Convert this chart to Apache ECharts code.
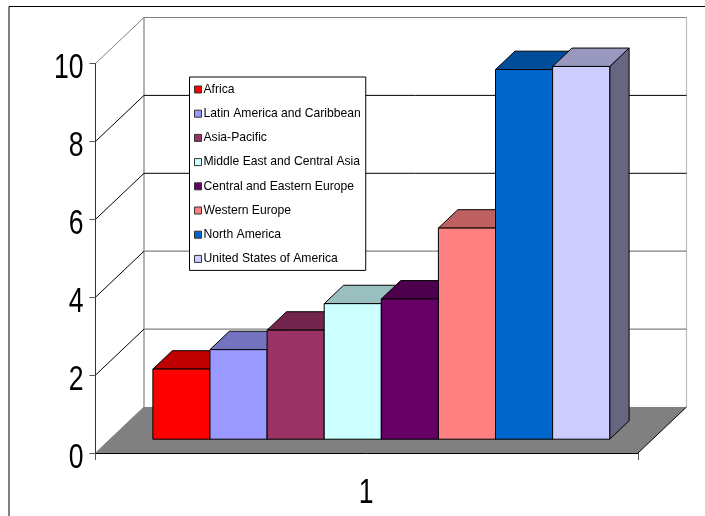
<!DOCTYPE html>
<html><head><meta charset="utf-8">
<style>html,body{margin:0;padding:0;background:#fff}#c{width:705px;height:516px}</style>
<script src="https://cdn.jsdelivr.net/npm/echarts@6/dist/echarts.min.js"></script>
</head><body><div id="c"></div>
<script>
const categories = ['1'];
const regions = ['Africa','Latin America and Caribbean','Asia-Pacific','Middle East and Central Asia','Central and Eastern Europe','Western Europe','North America','United States of America'];
const values = [1.80,2.30,2.80,3.48,3.60,5.42,9.49,9.57];
const frontColors = ['#FF0000','#9999FF','#993366','#CCFFFF','#660066','#FF8080','#0066CC','#CCCCFF'];
const topColors = ['#BF0000','#7373BF','#73264D','#99BFBF','#4D004D','#BF6060','#004D99','#9999BF'];
const sideColors = ['#800000','#4D4D80','#4D1933','#668080','#330033','#804040','#003366','#666680'];
const yTicks = [0,2,4,6,8,10];
const gridColors = {2:'#808080',4:'#808080',6:'#000',8:'#000',10:'#808080'};
const diagColors = {2:'#000',4:'#000',6:'#000',8:'#000',10:'#808080'};

const DX = 48.5, DY = -46;       // full depth of the floor
const NEAR = 0.3, FAR = 0.7;     // bar depth as a share of the floor
const GAP = 1.5;                 // gap width in bars
const font = '"Liberation Sans",Arial,sans-serif';
const LABEL_SIZE = 35, LABEL_SQUEEZE = 0.76;

function wall(params, api){
  const t = api.value(1);
  const p = api.coord([0,t]);
  const band = api.size([1,0])[0];
  const L = p[0]-band/2, R = p[0]+band/2, y = p[1];
  const kids = [];
  const line = (x1,y1,x2,y2,c,w)=>({type:'line',shape:{x1,y1,x2,y2},style:{stroke:c,lineWidth:w||1,fill:null}});
  const label = (text,x,yy,align,vAlign)=>({type:'text',x,y:yy,scaleX:LABEL_SQUEEZE,
    style:{text:String(text),fontFamily:font,fontSize:LABEL_SIZE,fill:'#000',align,verticalAlign:vAlign}});
  if(t===0){
    const top = api.coord([0,10])[1];
    kids.push({type:'polygon',shape:{points:[[L,y],[L+DX,y+DY],[R+DX,y+DY],[R,y]]},style:{fill:'#808080'}});
    kids.push(line(L+DX,top+DY,L+DX,y+DY,'#808080',1.2));
    kids.push(line(R+DX,top+DY,R+DX,y+DY,'#BDBDBD',1.2));
    kids.push(line(R,y,R+DX,y+DY,'#000',1));
    kids.push(line(L,y,L+DX,y+DY,'#808080',1));
    kids.push(label(categories[0],p[0]-0.5,y+40,'center','middle'));
  } else {
    kids.push(line(L,y,L+DX,y+DY,diagColors[t],1));
    kids.push(line(L+DX,y+DY,R+DX,y+DY,gridColors[t],t===6||t===8?1:1.2));
  }
  kids.push(label(t,L-12,y+5,'right','middle'));
  return {type:'group',children:kids};
}

function bar(i){
  return function(params, api){
    const p = api.coord([0,api.value(1)]);
    const b = api.coord([0,0]);
    const w = api.size([1,0])[0]/(regions.length+GAP);
    const x0 = p[0]+(i-regions.length/2)*w+NEAR*DX;
    const x1 = x0+w;
    const yTop = p[1]+NEAR*DY, yBot = b[1]+NEAR*DY;
    const dx = (FAR-NEAR)*DX, dy = (FAR-NEAR)*DY;
    const st = c=>({fill:c,stroke:'#000',lineWidth:1,lineJoin:'round'});
    return {type:'group',children:[
      {type:'polygon',shape:{points:[[x1,yTop],[x1+dx,yTop+dy],[x1+dx,yBot+dy],[x1,yBot]]},style:st(sideColors[i])},
      {type:'polygon',shape:{points:[[x0,yTop],[x0+dx,yTop+dy],[x1+dx,yTop+dy],[x1,yTop]]},style:st(topColors[i])},
      {type:'rect',shape:{x:x0,y:yTop,width:w,height:yBot-yTop},style:st(frontColors[i])}
    ]};
  };
}

const chart = echarts.init(document.getElementById('c'),null,{renderer:'canvas'});
chart.setOption({
  animation:false,
  backgroundColor:'#fff',
  grid:{left:95.5,right:67,top:63.5,bottom:63},
  xAxis:{type:'category',data:categories,z:6,
    axisLine:{lineStyle:{color:'#000',width:1}},
    axisTick:{show:true,length:7,lineStyle:{color:'#555'}},
    axisLabel:{show:false},
    splitLine:{show:false}},
  yAxis:{type:'value',min:0,max:10,interval:2,z:6,
    axisLine:{show:true,lineStyle:{color:'#333',width:1}},
    axisTick:{show:true,length:6,lineStyle:{color:'#555'}},
    axisLabel:{show:false},
    splitLine:{show:false}},
  legend:{show:true,orient:'vertical',left:189.5,top:77,data:regions,icon:'rect',
    itemWidth:7,itemHeight:7,itemGap:8.2,padding:[4.5,5,3.5,4.5],
    backgroundColor:'#fff',borderColor:'#000',borderWidth:1,z:20,
    itemStyle:{borderColor:'#333',borderWidth:1},
    textStyle:{fontFamily:font,fontSize:12.15,color:'#000',padding:[0,0,0,-3],lineHeight:16},
    selectedMode:false},
  graphic:[
    {type:'line',shape:{x1:9,y1:6.5,x2:705,y2:6.5},style:{stroke:'#000',lineWidth:1},silent:true},
    {type:'line',shape:{x1:9,y1:6.5,x2:9,y2:516},style:{stroke:'#000',lineWidth:1},silent:true}
  ],
  series:[
    {name:'walls',type:'custom',z:1,silent:true,clip:false,renderItem:wall,
     data:yTicks.map(t=>[0,t])}
  ].concat(regions.map((r,i)=>({
    name:r,type:'custom',z:2+i,silent:true,clip:false,
    itemStyle:{color:frontColors[i]},
    renderItem:bar(i),data:[[0,values[i]]]
  })))
});
</script></body></html>
